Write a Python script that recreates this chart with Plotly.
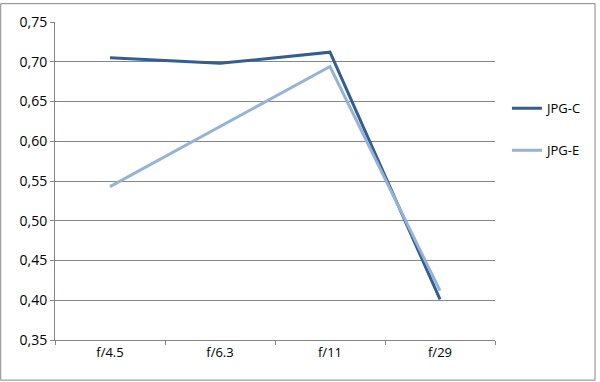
import plotly.graph_objects as go

categories = ["f/4.5", "f/6.3", "f/11", "f/29"]
jpg_c = [0.705, 0.698, 0.712, 0.401]
jpg_e = [0.543, 0.618, 0.694, 0.412]
y_ticks = [0.35, 0.40, 0.45, 0.50, 0.55, 0.60, 0.65, 0.70, 0.75]

L, R, T, B = 55, 103, 19, 42
W, H = 600, 382
pw, ph = W - L - R, H - T - B

fig = go.Figure()
fig.add_trace(go.Scatter(x=categories, y=jpg_c, mode="lines", name="JPG-C",
                         line=dict(color="#335E92", width=3), legendgroup="a"))
fig.add_trace(go.Scatter(x=categories, y=jpg_e, mode="lines", name="JPG-E",
                         line=dict(color="#95B3D7", width=3), legendgroup="b"))

font = "Open Sans, Liberation Sans, sans-serif"
fig.update_layout(
    width=W, height=H,
    margin=dict(l=L, r=R, t=T, b=B),
    paper_bgcolor="white", plot_bgcolor="white",
    separators=",.",
    font=dict(family=font, size=13, color="#000000"),
    xaxis=dict(type="category", range=[-0.5, 3.5], showgrid=False,
               showline=True, linecolor="#868686", linewidth=1,
               ticks="outside", tickson="boundaries", ticklen=4, tickcolor="#868686",
               tickfont=dict(size=13), zeroline=False, fixedrange=True),
    yaxis=dict(range=[0.35, 0.75], tickvals=y_ticks, tickformat=".2f",
               showgrid=True, gridcolor="#868686", gridwidth=1,
               showline=True, linecolor="#868686", linewidth=1,
               ticks="outside", ticklen=4, tickcolor="#868686",
               tickfont=dict(size=14), zeroline=False, fixedrange=True),
    legend=dict(x=(509 - L) / pw, y=1 - (91 - T) / ph, xanchor="left", yanchor="top",
                font=dict(size=13), tracegroupgap=22, traceorder="grouped",
                bgcolor="rgba(0,0,0,0)", itemwidth=30),
    showlegend=True,
    shapes=[dict(type="rect", xref="paper", yref="paper",
                 x0=(-L + 0.5) / pw, x1=(W - L - 2.5) / pw,
                 y0=-(B - 1.5) / ph, y1=1 + (T - 0.5) / ph,
                 line=dict(color="#868686", width=1), layer="below")],
)

fig.write_html("out.html")
